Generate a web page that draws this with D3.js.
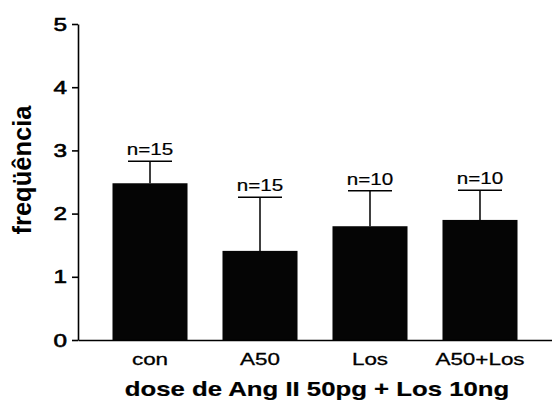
<!DOCTYPE html>
<html><head><meta charset="utf-8">
<script src="https://cdn.jsdelivr.net/npm/d3@7"></script>
<style>body{margin:0;background:#fff}svg{display:block}text{font-family:"Liberation Sans",Arial,sans-serif;fill:#000}</style>
</head><body>
<script>
const categories = ["con", "A50", "Los", "A50+Los"];
const means = [2.48, 1.41, 1.80, 1.90];
const upperErr = [2.83, 2.26, 2.36, 2.37];
const nLabels = ["n=15", "n=15", "n=10", "n=10"];
const yTicks = [0, 1, 2, 3, 4, 5];
const xTitle = "dose de Ang II 50pg + Los 10ng";
const yTitle = "freqüência";

const W = 552, H = 408;
const svg = d3.select("body").append("svg").attr("width", W).attr("height", H);

const y = d3.scaleLinear().domain([0, 5]).range([340, 24]);
const x = d3.scaleBand().domain(categories).range([78, 552]).paddingInner(0.318).paddingOuter(0.3136);

function stretchText(g, px, py, str, size, weight, anchor, sx, sw) {
  return g.append("text")
    .attr("transform", `translate(${px},${py}) scale(${sx},1)`)
    .attr("text-anchor", anchor)
    .style("font-size", size + "px")
    .style("font-weight", weight)
    .style("stroke", "#000")
    .style("stroke-width", sw || 0.35)
    .text(str);
}

// bars
svg.append("g").selectAll("rect").data(categories).join("rect")
  .attr("x", d => x(d))
  .attr("width", x.bandwidth())
  .attr("y", (d, i) => y(means[i]))
  .attr("height", (d, i) => y(0) - y(means[i]))
  .attr("fill", "#050505");

// error bars
const eb = svg.append("g").attr("stroke", "#000").attr("stroke-width", 1.5);
categories.forEach((c, i) => {
  const cx = x(c) + x.bandwidth() / 2;
  eb.append("line").attr("x1", cx).attr("x2", cx).attr("y1", y(means[i])).attr("y2", y(upperErr[i]));
  eb.append("line").attr("x1", cx - 22).attr("x2", cx + 22).attr("y1", y(upperErr[i])).attr("y2", y(upperErr[i]));
  stretchText(svg, cx, y(upperErr[i]) - 6, nLabels[i], 16.5, "normal", "middle", 1.25, 0.2);
});

// y axis
const yAxis = svg.append("g").attr("transform", "translate(78,0)")
  .call(d3.axisLeft(y).tickValues(yTicks).tickSize(6).tickSizeOuter(0).tickFormat(""));
yAxis.select(".domain").attr("stroke-width", 1.6);
yAxis.selectAll(".tick line").attr("stroke-width", 1.6);
yTicks.forEach(t => stretchText(svg, 67, y(t) + 6.5, String(t), 18, "normal", "end", 1.35, 0.6));

// x axis
const xAxis = svg.append("g").attr("transform", "translate(0,340)")
  .call(d3.axisBottom(x).tickSize(0).tickFormat(""));
xAxis.select(".domain").attr("stroke-width", 1.6);
categories.forEach(c => stretchText(svg, x(c) + x.bandwidth() / 2, 365, c, 17, "normal", "middle", 1.32, 0.3));

// titles
stretchText(svg, 317, 396, xTitle, 19.5, "bold", "middle", 1.32, 0.2);
svg.append("text")
  .attr("transform", "translate(31,170) rotate(-90)")
  .attr("text-anchor", "middle")
  .style("font-size", "25.5px").style("font-weight", "bold")
  .text(yTitle);
</script>
</body></html>
